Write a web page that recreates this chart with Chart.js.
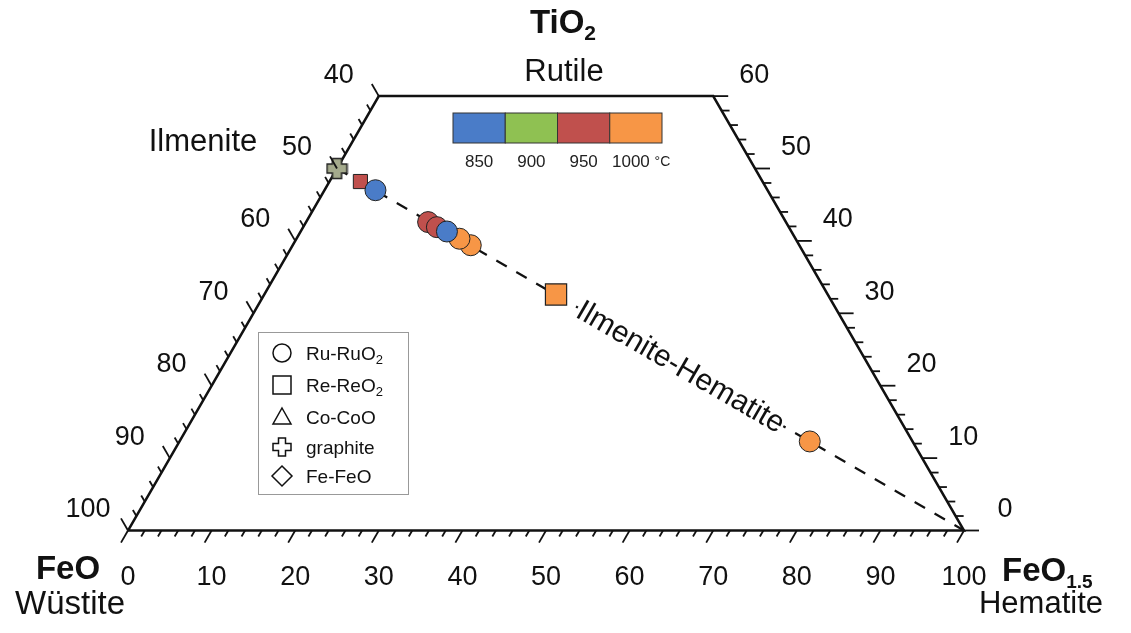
<!DOCTYPE html>
<html>
<head>
<meta charset="utf-8">
<script src="https://cdn.jsdelivr.net/npm/chart.js@4.4.0/dist/chart.umd.min.js"></script>
<style>
  html, body { margin: 0; padding: 0; background: #fff; }
  #wrap { width: 1131px; height: 633px; }
</style>
</head>
<body>
<div id="wrap"><canvas id="chart" width="1131" height="633"></canvas></div>
<script>
// compositions, mol % FeO1.5 and TiO2 (FeO is the rest)
const temps = ["850", "900", "950", "1000"];
const tempColors = ["#4a7cc8", "#8fc152", "#c0504d", "#f79646"];

const ruBlueHem = [6.1, 17.5];
const ruBlueTi = [47.0, 41.3];
const ruRedHem = [14.6, 16.0];
const ruRedTi = [42.6, 41.9];
const ruOrangeHem = [21.3, 19.5, 75.4];
const ruOrangeTi = [39.4, 40.3, 12.3];
const reRedHem = [3.7];
const reRedTi = [48.2];
const reOrangeHem = [34.9];
const reOrangeTi = [32.6];
const graphiteHem = [0];
const graphiteTi = [50];

// ilmenite - hematite join and the cut-off triangle outline
const joinHem = [0, 100];
const joinTi = [50, 0];
const frameHem = [0, 100, 40, 0, 0];
const frameTi = [0, 0, 60, 60, 0];

const hemLabels = [0, 10, 20, 30, 40, 50, 60, 70, 80, 90, 100];
const feoLabels = [40, 50, 60, 70, 80, 90, 100];
const tiLabels = [0, 10, 20, 30, 40, 50, 60];
const legendNames = ["Ru-RuO", "Re-ReO", "Co-CoO", "graphite", "Fe-FeO"];
const legendSubs = ["2", "2", "", "", ""];

const SQ3 = Math.sqrt(3) / 2;
const FONT = '"Liberation Sans", Arial, sans-serif';

function toXY(hem, ti) {
  return hem.map((h, i) => ({ x: h + ti[i] / 2, y: ti[i] * SQ3 }));
}

// plus shaped marker with outline
function plusImage(fill, size) {
  const c = document.createElement("canvas");
  c.width = size; c.height = size;
  const g = c.getContext("2d");
  const a = size * 0.3, b = size * 0.7, e = 1.5, f = size - 1.5;
  g.beginPath();
  g.moveTo(a, e); g.lineTo(b, e); g.lineTo(b, a); g.lineTo(f, a); g.lineTo(f, b);
  g.lineTo(b, b); g.lineTo(b, f); g.lineTo(a, f); g.lineTo(a, b); g.lineTo(e, b);
  g.lineTo(e, a); g.lineTo(a, a); g.closePath();
  g.fillStyle = fill; g.fill();
  g.strokeStyle = "#222"; g.lineWidth = 1.5; g.stroke();
  return c;
}

function subText(ctx, base, sub, x, y, size, subSize, bold, align) {
  const w = bold ? "bold " : "";
  ctx.font = w + size + "px " + FONT;
  const w1 = ctx.measureText(base).width;
  ctx.font = w + subSize + "px " + FONT;
  const w2 = sub ? ctx.measureText(sub).width : 0;
  let x0 = x;
  if (align === "center") x0 = x - (w1 + w2) / 2;
  if (align === "right") x0 = x - w1 - w2;
  ctx.textAlign = "left";
  ctx.textBaseline = "alphabetic";
  ctx.font = w + size + "px " + FONT;
  ctx.fillText(base, x0, y);
  if (sub) {
    ctx.font = w + subSize + "px " + FONT;
    ctx.fillText(sub, x0 + w1, y + size * 0.22);
  }
}

const ternaryDecor = {
  id: "ternaryDecor",
  afterDatasetsDraw(chart) {
    const ctx = chart.ctx;
    const xs = chart.scales.x, ys = chart.scales.y;
    const px = (h, t) => xs.getPixelForValue(h + t / 2);
    const py = t => ys.getPixelForValue(t * SQ3);
    ctx.save();
    ctx.strokeStyle = "#111";
    ctx.fillStyle = "#111";
    ctx.lineWidth = 1.8;

    function tick(x, y, dx, dy, len) {
      ctx.beginPath();
      ctx.moveTo(x, y);
      ctx.lineTo(x + dx * len, y + dy * len);
      ctx.stroke();
    }
    // bottom axis, FeO1.5
    for (let h = 0; h <= 100; h += 2) {
      tick(px(h, 0), py(0), -0.5, SQ3, h % 10 === 0 ? 14 : 7);
    }
    // left axis, FeO
    for (let f = 40; f <= 100; f += 2) {
      const t = 100 - f;
      tick(px(0, t), py(t), -0.5, -SQ3, f % 10 === 0 ? 14 : 7);
    }
    // right axis, TiO2
    for (let t = 0; t <= 60; t += 2) {
      tick(px(100 - t, t), py(t), 1, 0, t % 10 === 0 ? 15 : 8);
    }

    ctx.font = "27px " + FONT;
    ctx.textAlign = "center";
    ctx.textBaseline = "middle";
    hemLabels.forEach(h => ctx.fillText(String(h), px(h, 0), 578));
    feoLabels.forEach(f => {
      const t = 100 - f;
      ctx.fillText(String(f), px(0, t) - 40, py(t) - 21);
    });
    tiLabels.forEach(t => ctx.fillText(String(t), px(100 - t, t) + 41, py(t) - 21));

    // apex and corner names
    subText(ctx, "TiO", "2", 563, 33, 33, 21, true, "center");
    ctx.font = "31px " + FONT;
    ctx.textAlign = "center";
    ctx.textBaseline = "alphabetic";
    ctx.fillText("Rutile", 564, 81);
    ctx.fillText("Ilmenite", 203, 151);
    ctx.fillText("Hematite", 1041, 613);
    ctx.font = "33px " + FONT;
    ctx.fillText("Wüstite", 70, 614);
    subText(ctx, "FeO", "", 68, 579, 33, 20, true, "center");
    subText(ctx, "FeO", "1.5", 1002, 581, 33, 19, true, "left");

    // label on the join
    const lx = px(54.8, 22.6), ly = py(22.6);
    ctx.translate(lx, ly);
    ctx.rotate(Math.PI / 6);
    ctx.font = "30px " + FONT;
    const tw = ctx.measureText("Ilmenite-Hematite").width;
    ctx.fillStyle = "#fff";
    ctx.fillRect(-tw / 2 - 1, -15, tw + 2, 30);
    ctx.fillStyle = "#111";
    ctx.textAlign = "center";
    ctx.textBaseline = "middle";
    ctx.fillText("Ilmenite-Hematite", 0, 1);
    ctx.setTransform(1, 0, 0, 1, 0, 0);

    // temperature colour bar
    const cw = 52.25;
    temps.forEach((tp, i) => {
      ctx.fillStyle = tempColors[i];
      ctx.fillRect(453 + i * cw, 113, cw, 30);
      ctx.strokeStyle = "#333";
      ctx.lineWidth = 1;
      ctx.strokeRect(453 + i * cw, 113, cw, 30);
      ctx.fillStyle = "#222";
      ctx.font = "17px " + FONT;
      ctx.textBaseline = "middle";
      if (i < temps.length - 1) {
        ctx.textAlign = "center";
        ctx.fillText(tp, 453 + (i + 0.5) * cw, 162);
      } else {
        ctx.textAlign = "left";
        ctx.fillText(tp, 612, 162);
        const w = ctx.measureText(tp + " ").width;
        ctx.font = "14px " + FONT;
        ctx.fillText("°C", 612 + w, 162);
      }
    });

    // marker legend
    ctx.fillStyle = "#fff";
    ctx.fillRect(258.5, 332.5, 150, 162);
    ctx.strokeStyle = "#999";
    ctx.lineWidth = 1;
    ctx.strokeRect(258.5, 332.5, 150, 162);
    ctx.strokeStyle = "#111";
    ctx.lineWidth = 1.5;
    const rows = [353, 385, 417, 447, 476];
    const mx = 282;
    rows.forEach((y, i) => {
      ctx.beginPath();
      if (i === 0) ctx.arc(mx, y, 9, 0, Math.PI * 2);
      if (i === 1) ctx.rect(mx - 9, y - 9, 18, 18);
      if (i === 2) { ctx.moveTo(mx, y - 9); ctx.lineTo(mx + 9, y + 7); ctx.lineTo(mx - 9, y + 7); ctx.closePath(); }
      if (i === 3) {
        const a = 3.5, b = 9;
        ctx.moveTo(mx - a, y - b); ctx.lineTo(mx + a, y - b); ctx.lineTo(mx + a, y - a); ctx.lineTo(mx + b, y - a);
        ctx.lineTo(mx + b, y + a); ctx.lineTo(mx + a, y + a); ctx.lineTo(mx + a, y + b); ctx.lineTo(mx - a, y + b);
        ctx.lineTo(mx - a, y + a); ctx.lineTo(mx - b, y + a); ctx.lineTo(mx - b, y - a); ctx.lineTo(mx - a, y - a);
        ctx.closePath();
      }
      if (i === 4) { ctx.moveTo(mx, y - 10); ctx.lineTo(mx + 10, y); ctx.lineTo(mx, y + 10); ctx.lineTo(mx - 10, y); ctx.closePath(); }
      ctx.stroke();
      ctx.fillStyle = "#111";
      subText(ctx, legendNames[i], legendSubs[i], 306, y + 7, 19, 13, false, "left");
    });
    ctx.restore();
  }
};

const pxPerUnit = 8.36;
const x0px = 128, y0px = 530.5;

const circle = (data, color, r) => ({
  type: "scatter", data: data, pointStyle: "circle", pointRadius: r,
  backgroundColor: color, borderColor: "#222", borderWidth: 1, showLine: false
});

new Chart(document.getElementById("chart"), {
  type: "scatter",
  data: {
    datasets: [
      circle(toXY(ruBlueHem, ruBlueTi), tempColors[0], 10.5),
      circle(toXY(ruOrangeHem, ruOrangeTi), tempColors[3], 10.5),
      circle(toXY(ruRedHem, ruRedTi), tempColors[2], 10.5),
      {
        type: "scatter", data: toXY(reOrangeHem, reOrangeTi), pointStyle: "rect", pointRadius: 15,
        backgroundColor: tempColors[3], borderColor: "#222", borderWidth: 1.2
      },
      {
        type: "scatter", data: toXY(reRedHem, reRedTi), pointStyle: "rect", pointRadius: 10,
        backgroundColor: tempColors[2], borderColor: "#222", borderWidth: 1
      },
      {
        type: "scatter", data: toXY(graphiteHem, graphiteTi), pointStyle: plusImage("#a4aa8c", 23)
      },
      {
        type: "line", data: toXY(joinHem, joinTi), borderColor: "#111", borderWidth: 2.2,
        borderDash: [12, 11], pointRadius: 0, fill: false
      },
      {
        type: "line", data: toXY(frameHem, frameTi), borderColor: "#111", borderWidth: 2.5,
        pointRadius: 0, fill: false, tension: 0
      }
    ]
  },
  options: {
    responsive: false,
    animation: false,
    devicePixelRatio: 1,
    layout: { padding: 0, autoPadding: false },
    events: [],
    scales: {
      x: { type: "linear", display: false, min: -x0px / pxPerUnit, max: (1131 - x0px) / pxPerUnit },
      y: { type: "linear", display: false, min: -(633 - y0px) / pxPerUnit, max: y0px / pxPerUnit }
    },
    plugins: {
      legend: { display: false },
      tooltip: { enabled: false }
    }
  },
  plugins: [ternaryDecor]
});
</script>
</body>
</html>
